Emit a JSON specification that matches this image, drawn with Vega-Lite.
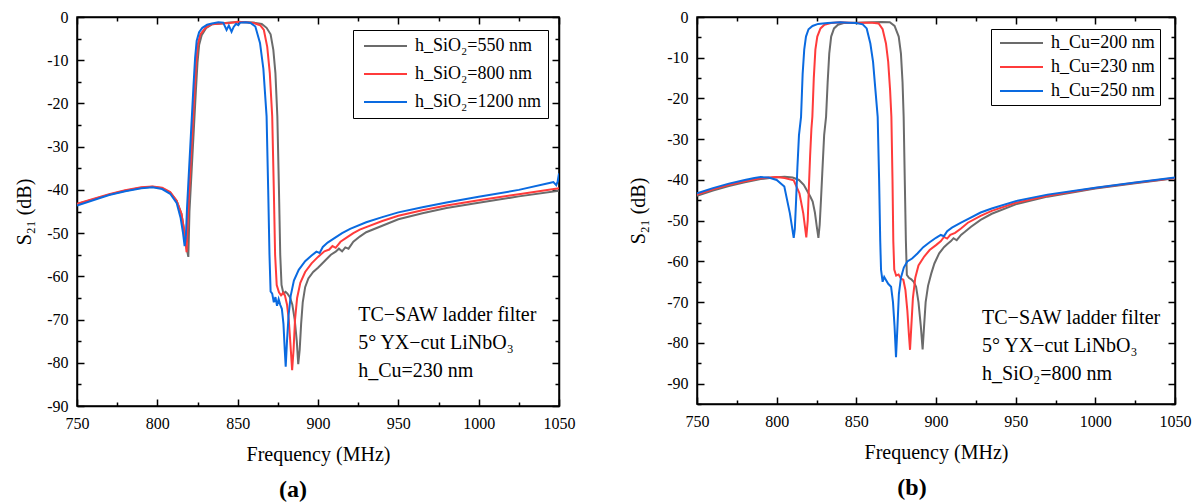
{
  "$schema": "https://vega.github.io/schema/vega-lite/v6.json",
  "background": "white",
  "padding": {"left": 13, "top": 8, "right": 0, "bottom": 0},
  "spacing": 51,
  "config": {
    "font": "Liberation Serif, Times New Roman, Times, DejaVu Serif, serif",
    "view": {"stroke": "black", "strokeWidth": 1.5},
    "axis": {"grid": false, "domainColor": "black", "domainWidth": 1.5, "tickColor": "black", "tickWidth": 1.5, "labelColor": "black", "labelFont": "Liberation Serif, Times New Roman, Times, DejaVu Serif, serif", "labelFontSize": 16, "titleFont": "Liberation Serif, Times New Roman, Times, DejaVu Serif, serif", "titleFontSize": 20, "titleFontWeight": "normal", "titleColor": "black", "labelFlush": false, "labelOverlap": false},
    "legend": {"labelFont": "Liberation Serif, Times New Roman, Times, DejaVu Serif, serif", "labelFontSize": 18, "labelColor": "black", "labelLimit": 400},
    "title": {"font": "Liberation Serif, Times New Roman, Times, DejaVu Serif, serif", "fontSize": 24, "fontWeight": "bold", "color": "black"},
    "text": {"font": "Liberation Serif, Times New Roman, Times, DejaVu Serif, serif"}
  },
  "datasets": {
    "a": [
      {"s":"h_SiO₂=550 nm","f":750,"db":-43.3},{"s":"h_SiO₂=550 nm","f":760,"db":-42.2},{"s":"h_SiO₂=550 nm","f":770,"db":-41.1},{"s":"h_SiO₂=550 nm","f":780,"db":-40.2},{"s":"h_SiO₂=550 nm","f":790,"db":-39.5},{"s":"h_SiO₂=550 nm","f":797,"db":-39.3},{"s":"h_SiO₂=550 nm","f":803,"db":-39.6},{"s":"h_SiO₂=550 nm","f":808,"db":-40.6},{"s":"h_SiO₂=550 nm","f":812,"db":-42.5},{"s":"h_SiO₂=550 nm","f":815,"db":-45.5},{"s":"h_SiO₂=550 nm","f":817,"db":-50},{"s":"h_SiO₂=550 nm","f":818.5,"db":-54},{"s":"h_SiO₂=550 nm","f":819.3,"db":-55.5},{"s":"h_SiO₂=550 nm","f":820,"db":-45},{"s":"h_SiO₂=550 nm","f":821,"db":-38},{"s":"h_SiO₂=550 nm","f":822,"db":-31},{"s":"h_SiO₂=550 nm","f":823,"db":-24},{"s":"h_SiO₂=550 nm","f":824,"db":-17},{"s":"h_SiO₂=550 nm","f":825,"db":-10.5},{"s":"h_SiO₂=550 nm","f":826,"db":-6.5},{"s":"h_SiO₂=550 nm","f":827.6,"db":-4.2},{"s":"h_SiO₂=550 nm","f":830.5,"db":-2.5},{"s":"h_SiO₂=550 nm","f":834,"db":-1.7},{"s":"h_SiO₂=550 nm","f":840,"db":-1.5},{"s":"h_SiO₂=550 nm","f":845,"db":-1.3},{"s":"h_SiO₂=550 nm","f":850,"db":-1.2},{"s":"h_SiO₂=550 nm","f":855,"db":-1.2},{"s":"h_SiO₂=550 nm","f":860,"db":-1.3},{"s":"h_SiO₂=550 nm","f":865,"db":-1.6},{"s":"h_SiO₂=550 nm","f":868,"db":-2.5},{"s":"h_SiO₂=550 nm","f":870.5,"db":-4},{"s":"h_SiO₂=550 nm","f":872.2,"db":-7.6},{"s":"h_SiO₂=550 nm","f":873.5,"db":-13},{"s":"h_SiO₂=550 nm","f":874.7,"db":-23},{"s":"h_SiO₂=550 nm","f":875.7,"db":-40},{"s":"h_SiO₂=550 nm","f":876.5,"db":-55},{"s":"h_SiO₂=550 nm","f":877.3,"db":-62},{"s":"h_SiO₂=550 nm","f":878.5,"db":-64},{"s":"h_SiO₂=550 nm","f":879.8,"db":-63.6},{"s":"h_SiO₂=550 nm","f":881,"db":-64},{"s":"h_SiO₂=550 nm","f":882.5,"db":-64.8},{"s":"h_SiO₂=550 nm","f":884,"db":-66.5},{"s":"h_SiO₂=550 nm","f":885.5,"db":-70},{"s":"h_SiO₂=550 nm","f":886.8,"db":-75},{"s":"h_SiO₂=550 nm","f":887.7,"db":-80.3},{"s":"h_SiO₂=550 nm","f":888.6,"db":-77},{"s":"h_SiO₂=550 nm","f":889.5,"db":-71},{"s":"h_SiO₂=550 nm","f":890.5,"db":-66},{"s":"h_SiO₂=550 nm","f":892,"db":-62.5},{"s":"h_SiO₂=550 nm","f":894,"db":-60.5},{"s":"h_SiO₂=550 nm","f":897,"db":-59},{"s":"h_SiO₂=550 nm","f":900,"db":-58},{"s":"h_SiO₂=550 nm","f":904,"db":-56.5},{"s":"h_SiO₂=550 nm","f":908,"db":-55},{"s":"h_SiO₂=550 nm","f":911,"db":-54.3},{"s":"h_SiO₂=550 nm","f":913,"db":-53.6},{"s":"h_SiO₂=550 nm","f":915,"db":-54.2},{"s":"h_SiO₂=550 nm","f":917,"db":-53.3},{"s":"h_SiO₂=550 nm","f":919,"db":-53.6},{"s":"h_SiO₂=550 nm","f":922,"db":-52},{"s":"h_SiO₂=550 nm","f":926,"db":-50.8},{"s":"h_SiO₂=550 nm","f":930,"db":-49.8},{"s":"h_SiO₂=550 nm","f":940,"db":-48.3},{"s":"h_SiO₂=550 nm","f":950,"db":-46.8},{"s":"h_SiO₂=550 nm","f":965,"db":-45.4},{"s":"h_SiO₂=550 nm","f":980,"db":-44.2},{"s":"h_SiO₂=550 nm","f":1000,"db":-43},{"s":"h_SiO₂=550 nm","f":1025,"db":-41.5},{"s":"h_SiO₂=550 nm","f":1050,"db":-40.2},
      {"s":"h_SiO₂=800 nm","f":750,"db":-43.2},{"s":"h_SiO₂=800 nm","f":760,"db":-42.1},{"s":"h_SiO₂=800 nm","f":770,"db":-41},{"s":"h_SiO₂=800 nm","f":780,"db":-40.1},{"s":"h_SiO₂=800 nm","f":790,"db":-39.4},{"s":"h_SiO₂=800 nm","f":797,"db":-39.2},{"s":"h_SiO₂=800 nm","f":803,"db":-39.5},{"s":"h_SiO₂=800 nm","f":808,"db":-40.5},{"s":"h_SiO₂=800 nm","f":812,"db":-42.5},{"s":"h_SiO₂=800 nm","f":815,"db":-45.5},{"s":"h_SiO₂=800 nm","f":817,"db":-50},{"s":"h_SiO₂=800 nm","f":818.2,"db":-54.4},{"s":"h_SiO₂=800 nm","f":819.2,"db":-45},{"s":"h_SiO₂=800 nm","f":820.2,"db":-38},{"s":"h_SiO₂=800 nm","f":821.2,"db":-31},{"s":"h_SiO₂=800 nm","f":822.2,"db":-24},{"s":"h_SiO₂=800 nm","f":823.2,"db":-17},{"s":"h_SiO₂=800 nm","f":824.2,"db":-10.5},{"s":"h_SiO₂=800 nm","f":825.2,"db":-6.3},{"s":"h_SiO₂=800 nm","f":826.8,"db":-4},{"s":"h_SiO₂=800 nm","f":830,"db":-2.5},{"s":"h_SiO₂=800 nm","f":833.5,"db":-1.7},{"s":"h_SiO₂=800 nm","f":840,"db":-1.5},{"s":"h_SiO₂=800 nm","f":845,"db":-1.4},{"s":"h_SiO₂=800 nm","f":850,"db":-1.1},{"s":"h_SiO₂=800 nm","f":855,"db":-1.2},{"s":"h_SiO₂=800 nm","f":860,"db":-1.4},{"s":"h_SiO₂=800 nm","f":864,"db":-1.9},{"s":"h_SiO₂=800 nm","f":866.3,"db":-3},{"s":"h_SiO₂=800 nm","f":868.4,"db":-6.9},{"s":"h_SiO₂=800 nm","f":870,"db":-13},{"s":"h_SiO₂=800 nm","f":871.5,"db":-23},{"s":"h_SiO₂=800 nm","f":872.5,"db":-40},{"s":"h_SiO₂=800 nm","f":873.3,"db":-55},{"s":"h_SiO₂=800 nm","f":874.3,"db":-62},{"s":"h_SiO₂=800 nm","f":875.7,"db":-63.7},{"s":"h_SiO₂=800 nm","f":877,"db":-64.4},{"s":"h_SiO₂=800 nm","f":878.3,"db":-63.8},{"s":"h_SiO₂=800 nm","f":879.4,"db":-64.4},{"s":"h_SiO₂=800 nm","f":880.7,"db":-66.5},{"s":"h_SiO₂=800 nm","f":881.8,"db":-70},{"s":"h_SiO₂=800 nm","f":882.9,"db":-76},{"s":"h_SiO₂=800 nm","f":883.9,"db":-81.7},{"s":"h_SiO₂=800 nm","f":884.8,"db":-77},{"s":"h_SiO₂=800 nm","f":885.7,"db":-70},{"s":"h_SiO₂=800 nm","f":887,"db":-65},{"s":"h_SiO₂=800 nm","f":889,"db":-61.5},{"s":"h_SiO₂=800 nm","f":892,"db":-59},{"s":"h_SiO₂=800 nm","f":896,"db":-57},{"s":"h_SiO₂=800 nm","f":900,"db":-55.5},{"s":"h_SiO₂=800 nm","f":904,"db":-54.2},{"s":"h_SiO₂=800 nm","f":907,"db":-53.8},{"s":"h_SiO₂=800 nm","f":909,"db":-53},{"s":"h_SiO₂=800 nm","f":911,"db":-53.4},{"s":"h_SiO₂=800 nm","f":914,"db":-52},{"s":"h_SiO₂=800 nm","f":918,"db":-51},{"s":"h_SiO₂=800 nm","f":922,"db":-50},{"s":"h_SiO₂=800 nm","f":926,"db":-49.2},{"s":"h_SiO₂=800 nm","f":930,"db":-48.6},{"s":"h_SiO₂=800 nm","f":940,"db":-47.2},{"s":"h_SiO₂=800 nm","f":950,"db":-46},{"s":"h_SiO₂=800 nm","f":965,"db":-44.7},{"s":"h_SiO₂=800 nm","f":980,"db":-43.6},{"s":"h_SiO₂=800 nm","f":1000,"db":-42.4},{"s":"h_SiO₂=800 nm","f":1025,"db":-41},{"s":"h_SiO₂=800 nm","f":1050,"db":-39.6},
      {"s":"h_SiO₂=1200 nm","f":750,"db":-43.6},{"s":"h_SiO₂=1200 nm","f":760,"db":-42.4},{"s":"h_SiO₂=1200 nm","f":770,"db":-41.2},{"s":"h_SiO₂=1200 nm","f":780,"db":-40.3},{"s":"h_SiO₂=1200 nm","f":790,"db":-39.6},{"s":"h_SiO₂=1200 nm","f":797,"db":-39.4},{"s":"h_SiO₂=1200 nm","f":803,"db":-39.8},{"s":"h_SiO₂=1200 nm","f":808,"db":-40.9},{"s":"h_SiO₂=1200 nm","f":812,"db":-43},{"s":"h_SiO₂=1200 nm","f":814.5,"db":-46.5},{"s":"h_SiO₂=1200 nm","f":816,"db":-50},{"s":"h_SiO₂=1200 nm","f":817,"db":-53},{"s":"h_SiO₂=1200 nm","f":817.8,"db":-50.5},{"s":"h_SiO₂=1200 nm","f":818.5,"db":-44},{"s":"h_SiO₂=1200 nm","f":819.5,"db":-37},{"s":"h_SiO₂=1200 nm","f":820.5,"db":-30},{"s":"h_SiO₂=1200 nm","f":821.5,"db":-23},{"s":"h_SiO₂=1200 nm","f":822.5,"db":-16},{"s":"h_SiO₂=1200 nm","f":823.5,"db":-9.5},{"s":"h_SiO₂=1200 nm","f":824.5,"db":-5.5},{"s":"h_SiO₂=1200 nm","f":826,"db":-3.5},{"s":"h_SiO₂=1200 nm","f":828,"db":-2.5},{"s":"h_SiO₂=1200 nm","f":831,"db":-1.8},{"s":"h_SiO₂=1200 nm","f":834,"db":-1.5},{"s":"h_SiO₂=1200 nm","f":838,"db":-1.2},{"s":"h_SiO₂=1200 nm","f":841,"db":-1.3},{"s":"h_SiO₂=1200 nm","f":843.1,"db":-3},{"s":"h_SiO₂=1200 nm","f":844.5,"db":-2},{"s":"h_SiO₂=1200 nm","f":846.2,"db":-3.4},{"s":"h_SiO₂=1200 nm","f":847.5,"db":-2.3},{"s":"h_SiO₂=1200 nm","f":849,"db":-1.6},{"s":"h_SiO₂=1200 nm","f":850.4,"db":-1.9},{"s":"h_SiO₂=1200 nm","f":851.5,"db":-1.3},{"s":"h_SiO₂=1200 nm","f":855,"db":-1.2},{"s":"h_SiO₂=1200 nm","f":858,"db":-1.4},{"s":"h_SiO₂=1200 nm","f":861,"db":-2.2},{"s":"h_SiO₂=1200 nm","f":863.9,"db":-6},{"s":"h_SiO₂=1200 nm","f":866,"db":-12},{"s":"h_SiO₂=1200 nm","f":868,"db":-23},{"s":"h_SiO₂=1200 nm","f":869,"db":-40},{"s":"h_SiO₂=1200 nm","f":869.8,"db":-55},{"s":"h_SiO₂=1200 nm","f":870.5,"db":-63.5},{"s":"h_SiO₂=1200 nm","f":871.5,"db":-64},{"s":"h_SiO₂=1200 nm","f":872.5,"db":-66},{"s":"h_SiO₂=1200 nm","f":873.5,"db":-64.8},{"s":"h_SiO₂=1200 nm","f":874.5,"db":-66.8},{"s":"h_SiO₂=1200 nm","f":875.5,"db":-65.3},{"s":"h_SiO₂=1200 nm","f":876.5,"db":-66.6},{"s":"h_SiO₂=1200 nm","f":877.5,"db":-67.5},{"s":"h_SiO₂=1200 nm","f":878.5,"db":-71},{"s":"h_SiO₂=1200 nm","f":879.3,"db":-77},{"s":"h_SiO₂=1200 nm","f":879.9,"db":-80.9},{"s":"h_SiO₂=1200 nm","f":880.7,"db":-75},{"s":"h_SiO₂=1200 nm","f":881.7,"db":-69},{"s":"h_SiO₂=1200 nm","f":883,"db":-64.5},{"s":"h_SiO₂=1200 nm","f":885,"db":-61},{"s":"h_SiO₂=1200 nm","f":888,"db":-58.5},{"s":"h_SiO₂=1200 nm","f":892,"db":-56.5},{"s":"h_SiO₂=1200 nm","f":896,"db":-55.2},{"s":"h_SiO₂=1200 nm","f":899,"db":-54.3},{"s":"h_SiO₂=1200 nm","f":901,"db":-54.6},{"s":"h_SiO₂=1200 nm","f":903,"db":-53.2},{"s":"h_SiO₂=1200 nm","f":906,"db":-52.2},{"s":"h_SiO₂=1200 nm","f":910,"db":-51.2},{"s":"h_SiO₂=1200 nm","f":915,"db":-50},{"s":"h_SiO₂=1200 nm","f":920,"db":-49},{"s":"h_SiO₂=1200 nm","f":930,"db":-47.5},{"s":"h_SiO₂=1200 nm","f":940,"db":-46.3},{"s":"h_SiO₂=1200 nm","f":950,"db":-45.2},{"s":"h_SiO₂=1200 nm","f":965,"db":-44},{"s":"h_SiO₂=1200 nm","f":980,"db":-42.9},{"s":"h_SiO₂=1200 nm","f":1000,"db":-41.6},{"s":"h_SiO₂=1200 nm","f":1025,"db":-40},{"s":"h_SiO₂=1200 nm","f":1044,"db":-38.4},{"s":"h_SiO₂=1200 nm","f":1046.5,"db":-38.2},{"s":"h_SiO₂=1200 nm","f":1048.3,"db":-38.9},{"s":"h_SiO₂=1200 nm","f":1049.2,"db":-38},{"s":"h_SiO₂=1200 nm","f":1050,"db":-36.2}
    ],
    "b": [
      {"s":"h_Cu=200 nm","f":750,"db":-43.9},{"s":"h_Cu=200 nm","f":760,"db":-42.6},{"s":"h_Cu=200 nm","f":770,"db":-41.5},{"s":"h_Cu=200 nm","f":780,"db":-40.6},{"s":"h_Cu=200 nm","f":790,"db":-39.8},{"s":"h_Cu=200 nm","f":798,"db":-39.4},{"s":"h_Cu=200 nm","f":805,"db":-39.2},{"s":"h_Cu=200 nm","f":810,"db":-39.4},{"s":"h_Cu=200 nm","f":814,"db":-40},{"s":"h_Cu=200 nm","f":817,"db":-41.2},{"s":"h_Cu=200 nm","f":819,"db":-42.6},{"s":"h_Cu=200 nm","f":821,"db":-44},{"s":"h_Cu=200 nm","f":822.6,"db":-45.3},{"s":"h_Cu=200 nm","f":824,"db":-48},{"s":"h_Cu=200 nm","f":825.2,"db":-51.5},{"s":"h_Cu=200 nm","f":826.2,"db":-54.2},{"s":"h_Cu=200 nm","f":827,"db":-51},{"s":"h_Cu=200 nm","f":827.8,"db":-45},{"s":"h_Cu=200 nm","f":828.6,"db":-38.5},{"s":"h_Cu=200 nm","f":829.8,"db":-29},{"s":"h_Cu=200 nm","f":831,"db":-24.5},{"s":"h_Cu=200 nm","f":832,"db":-16},{"s":"h_Cu=200 nm","f":833,"db":-9},{"s":"h_Cu=200 nm","f":834.2,"db":-4.8},{"s":"h_Cu=200 nm","f":836,"db":-2.8},{"s":"h_Cu=200 nm","f":838.5,"db":-1.9},{"s":"h_Cu=200 nm","f":842,"db":-1.5},{"s":"h_Cu=200 nm","f":850,"db":-1.4},{"s":"h_Cu=200 nm","f":860,"db":-1.3},{"s":"h_Cu=200 nm","f":866,"db":-1.2},{"s":"h_Cu=200 nm","f":871,"db":-1.3},{"s":"h_Cu=200 nm","f":874,"db":-2.2},{"s":"h_Cu=200 nm","f":876.6,"db":-4.8},{"s":"h_Cu=200 nm","f":878,"db":-9},{"s":"h_Cu=200 nm","f":879,"db":-16},{"s":"h_Cu=200 nm","f":879.7,"db":-24.5},{"s":"h_Cu=200 nm","f":880.4,"db":-40},{"s":"h_Cu=200 nm","f":881.1,"db":-55},{"s":"h_Cu=200 nm","f":881.7,"db":-63.3},{"s":"h_Cu=200 nm","f":883,"db":-64},{"s":"h_Cu=200 nm","f":884.5,"db":-64.4},{"s":"h_Cu=200 nm","f":886,"db":-65},{"s":"h_Cu=200 nm","f":887.5,"db":-66.2},{"s":"h_Cu=200 nm","f":889,"db":-70},{"s":"h_Cu=200 nm","f":890.5,"db":-76},{"s":"h_Cu=200 nm","f":891.6,"db":-81.6},{"s":"h_Cu=200 nm","f":892.5,"db":-76},{"s":"h_Cu=200 nm","f":893.5,"db":-70},{"s":"h_Cu=200 nm","f":895,"db":-66},{"s":"h_Cu=200 nm","f":897,"db":-63},{"s":"h_Cu=200 nm","f":899,"db":-60.5},{"s":"h_Cu=200 nm","f":902,"db":-58},{"s":"h_Cu=200 nm","f":905,"db":-56.5},{"s":"h_Cu=200 nm","f":907,"db":-55.8},{"s":"h_Cu=200 nm","f":909.4,"db":-55},{"s":"h_Cu=200 nm","f":911,"db":-54.3},{"s":"h_Cu=200 nm","f":913,"db":-54.8},{"s":"h_Cu=200 nm","f":915.7,"db":-53.5},{"s":"h_Cu=200 nm","f":918,"db":-52.8},{"s":"h_Cu=200 nm","f":922,"db":-51.5},{"s":"h_Cu=200 nm","f":928,"db":-49.8},{"s":"h_Cu=200 nm","f":935,"db":-48.3},{"s":"h_Cu=200 nm","f":950,"db":-46},{"s":"h_Cu=200 nm","f":970,"db":-44.1},{"s":"h_Cu=200 nm","f":1000,"db":-42.1},{"s":"h_Cu=200 nm","f":1025,"db":-40.8},{"s":"h_Cu=200 nm","f":1050,"db":-39.6},
      {"s":"h_Cu=230 nm","f":750,"db":-43.6},{"s":"h_Cu=230 nm","f":760,"db":-42.3},{"s":"h_Cu=230 nm","f":770,"db":-41.2},{"s":"h_Cu=230 nm","f":780,"db":-40.3},{"s":"h_Cu=230 nm","f":790,"db":-39.6},{"s":"h_Cu=230 nm","f":795,"db":-39.4},{"s":"h_Cu=230 nm","f":800,"db":-39.3},{"s":"h_Cu=230 nm","f":805,"db":-39.5},{"s":"h_Cu=230 nm","f":810.7,"db":-40.1},{"s":"h_Cu=230 nm","f":814.3,"db":-43.3},{"s":"h_Cu=230 nm","f":816.7,"db":-48.2},{"s":"h_Cu=230 nm","f":818.6,"db":-54.1},{"s":"h_Cu=230 nm","f":819.5,"db":-50},{"s":"h_Cu=230 nm","f":820.2,"db":-42},{"s":"h_Cu=230 nm","f":821,"db":-34},{"s":"h_Cu=230 nm","f":821.8,"db":-27.5},{"s":"h_Cu=230 nm","f":822.4,"db":-24.5},{"s":"h_Cu=230 nm","f":823.3,"db":-15},{"s":"h_Cu=230 nm","f":824.3,"db":-8},{"s":"h_Cu=230 nm","f":825.5,"db":-4.8},{"s":"h_Cu=230 nm","f":827.5,"db":-2.8},{"s":"h_Cu=230 nm","f":830,"db":-1.9},{"s":"h_Cu=230 nm","f":834,"db":-1.5},{"s":"h_Cu=230 nm","f":840,"db":-1.3},{"s":"h_Cu=230 nm","f":846,"db":-1.4},{"s":"h_Cu=230 nm","f":850,"db":-1.5},{"s":"h_Cu=230 nm","f":855,"db":-1.4},{"s":"h_Cu=230 nm","f":860,"db":-1.4},{"s":"h_Cu=230 nm","f":864,"db":-1.6},{"s":"h_Cu=230 nm","f":866.5,"db":-3},{"s":"h_Cu=230 nm","f":868.6,"db":-6.5},{"s":"h_Cu=230 nm","f":870,"db":-11},{"s":"h_Cu=230 nm","f":871.2,"db":-18},{"s":"h_Cu=230 nm","f":872,"db":-24.5},{"s":"h_Cu=230 nm","f":872.7,"db":-40},{"s":"h_Cu=230 nm","f":873.2,"db":-55},{"s":"h_Cu=230 nm","f":873.8,"db":-62},{"s":"h_Cu=230 nm","f":875,"db":-63.5},{"s":"h_Cu=230 nm","f":876.5,"db":-63.2},{"s":"h_Cu=230 nm","f":878,"db":-64.2},{"s":"h_Cu=230 nm","f":879.5,"db":-64.5},{"s":"h_Cu=230 nm","f":880.8,"db":-67},{"s":"h_Cu=230 nm","f":882,"db":-72},{"s":"h_Cu=230 nm","f":883,"db":-78},{"s":"h_Cu=230 nm","f":883.7,"db":-81.7},{"s":"h_Cu=230 nm","f":884.5,"db":-76},{"s":"h_Cu=230 nm","f":885.5,"db":-69},{"s":"h_Cu=230 nm","f":887,"db":-64},{"s":"h_Cu=230 nm","f":889,"db":-61},{"s":"h_Cu=230 nm","f":892.6,"db":-58.8},{"s":"h_Cu=230 nm","f":896,"db":-57.2},{"s":"h_Cu=230 nm","f":900,"db":-56},{"s":"h_Cu=230 nm","f":903.1,"db":-55},{"s":"h_Cu=230 nm","f":905,"db":-54},{"s":"h_Cu=230 nm","f":907,"db":-54.4},{"s":"h_Cu=230 nm","f":909,"db":-53.5},{"s":"h_Cu=230 nm","f":912,"db":-53},{"s":"h_Cu=230 nm","f":915.7,"db":-51.9},{"s":"h_Cu=230 nm","f":920,"db":-50.5},{"s":"h_Cu=230 nm","f":928,"db":-48.8},{"s":"h_Cu=230 nm","f":935,"db":-47.6},{"s":"h_Cu=230 nm","f":950,"db":-45.6},{"s":"h_Cu=230 nm","f":970,"db":-43.9},{"s":"h_Cu=230 nm","f":1000,"db":-42},{"s":"h_Cu=230 nm","f":1025,"db":-40.7},{"s":"h_Cu=230 nm","f":1050,"db":-39.5},
      {"s":"h_Cu=250 nm","f":750,"db":-43.3},{"s":"h_Cu=250 nm","f":760,"db":-42},{"s":"h_Cu=250 nm","f":770,"db":-40.9},{"s":"h_Cu=250 nm","f":780,"db":-40},{"s":"h_Cu=250 nm","f":786,"db":-39.5},{"s":"h_Cu=250 nm","f":790,"db":-39.3},{"s":"h_Cu=250 nm","f":795,"db":-39.4},{"s":"h_Cu=250 nm","f":800,"db":-40},{"s":"h_Cu=250 nm","f":804.8,"db":-41.6},{"s":"h_Cu=250 nm","f":808.3,"db":-48.2},{"s":"h_Cu=250 nm","f":810.7,"db":-54.2},{"s":"h_Cu=250 nm","f":811.4,"db":-52},{"s":"h_Cu=250 nm","f":812.2,"db":-45},{"s":"h_Cu=250 nm","f":813,"db":-37},{"s":"h_Cu=250 nm","f":814,"db":-29},{"s":"h_Cu=250 nm","f":815.3,"db":-24.5},{"s":"h_Cu=250 nm","f":816.3,"db":-14},{"s":"h_Cu=250 nm","f":817.3,"db":-8},{"s":"h_Cu=250 nm","f":818.4,"db":-4.8},{"s":"h_Cu=250 nm","f":820,"db":-3},{"s":"h_Cu=250 nm","f":822.5,"db":-2.2},{"s":"h_Cu=250 nm","f":826,"db":-1.7},{"s":"h_Cu=250 nm","f":832,"db":-1.5},{"s":"h_Cu=250 nm","f":840,"db":-1.3},{"s":"h_Cu=250 nm","f":845,"db":-1.4},{"s":"h_Cu=250 nm","f":850,"db":-1.5},{"s":"h_Cu=250 nm","f":854,"db":-1.8},{"s":"h_Cu=250 nm","f":856.5,"db":-2.8},{"s":"h_Cu=250 nm","f":858.8,"db":-6.5},{"s":"h_Cu=250 nm","f":860.5,"db":-11},{"s":"h_Cu=250 nm","f":862,"db":-18},{"s":"h_Cu=250 nm","f":863.4,"db":-24.5},{"s":"h_Cu=250 nm","f":864.3,"db":-40},{"s":"h_Cu=250 nm","f":865,"db":-55},{"s":"h_Cu=250 nm","f":865.5,"db":-62},{"s":"h_Cu=250 nm","f":866.5,"db":-65},{"s":"h_Cu=250 nm","f":867.5,"db":-63.8},{"s":"h_Cu=250 nm","f":868.5,"db":-64.5},{"s":"h_Cu=250 nm","f":870,"db":-65.5},{"s":"h_Cu=250 nm","f":871.8,"db":-66.2},{"s":"h_Cu=250 nm","f":873,"db":-70},{"s":"h_Cu=250 nm","f":874,"db":-76},{"s":"h_Cu=250 nm","f":874.9,"db":-83.5},{"s":"h_Cu=250 nm","f":875.8,"db":-76},{"s":"h_Cu=250 nm","f":876.7,"db":-68},{"s":"h_Cu=250 nm","f":878,"db":-64},{"s":"h_Cu=250 nm","f":879.8,"db":-61.5},{"s":"h_Cu=250 nm","f":882,"db":-60},{"s":"h_Cu=250 nm","f":885,"db":-59.3},{"s":"h_Cu=250 nm","f":888.5,"db":-58},{"s":"h_Cu=250 nm","f":892,"db":-56.5},{"s":"h_Cu=250 nm","f":896,"db":-55.3},{"s":"h_Cu=250 nm","f":900,"db":-54.2},{"s":"h_Cu=250 nm","f":903,"db":-53.5},{"s":"h_Cu=250 nm","f":905,"db":-53.8},{"s":"h_Cu=250 nm","f":907,"db":-52.6},{"s":"h_Cu=250 nm","f":910,"db":-51.7},{"s":"h_Cu=250 nm","f":915.7,"db":-50.5},{"s":"h_Cu=250 nm","f":920,"db":-49.6},{"s":"h_Cu=250 nm","f":928,"db":-48},{"s":"h_Cu=250 nm","f":935,"db":-47},{"s":"h_Cu=250 nm","f":950,"db":-45.2},{"s":"h_Cu=250 nm","f":970,"db":-43.6},{"s":"h_Cu=250 nm","f":1000,"db":-41.9},{"s":"h_Cu=250 nm","f":1025,"db":-40.6},{"s":"h_Cu=250 nm","f":1050,"db":-39.4}
    ]
  },
  "resolve": {"scale": {"color": "independent"}},
  "hconcat": [
    {
      "width": 482, "height": 389,
      "data": {"name": "a"},
      "title": {"text": "(a)", "orient": "bottom", "anchor": "middle", "offset": 14, "dx": -25},
      "layer": [
        {
          "mark": {"type": "line", "strokeWidth": 2, "clip": true},
          "encoding": {
            "x": {"field": "f", "type": "quantitative", "scale": {"domain": [750, 1050], "nice": false, "zero": false},
              "axis": {"orient": "bottom", "values": [750,775,800,825,850,875,900,925,950,975,1000,1025,1050], "labelExpr": "datum.value % 50 === 0 ? '' + datum.value : ''", "tickSize": {"condition": {"test": "datum.value % 50 === 0", "value": -7}, "value": -4}, "title": "Frequency (MHz)", "labelPadding": 16, "titlePadding": 10}},
            "y": {"field": "db", "type": "quantitative", "scale": {"domain": [-90, 0], "nice": false, "zero": false},
              "axis": {"orient": "left", "values": [-90,-85,-80,-75,-70,-65,-60,-55,-50,-45,-40,-35,-30,-25,-20,-15,-10,-5,0], "labelExpr": "datum.value % 10 === 0 ? (datum.value < 0 ? '-' + abs(datum.value) : '0') : ''", "tickSize": {"condition": {"test": "datum.value % 10 === 0", "value": -7}, "value": -4}, "title": "S₂₁ (dB)", "labelPadding": 16, "titlePadding": 12}},
            "color": {"field": "s", "type": "nominal",
              "scale": {"domain": ["h_SiO₂=550 nm", "h_SiO₂=800 nm", "h_SiO₂=1200 nm"], "range": ["#6b6b6b", "#ff3b3b", "#0a6ae0"]},
              "legend": {"title": null, "orient": "none", "legendX": 276, "legendY": 13, "strokeColor": "black", "fillColor": "white", "padding": 7, "rowPadding": 10, "symbolType": "M-1,0H7.6", "symbolSize": 100, "symbolStrokeWidth": 2, "labelOffset": 37}}
          }
        },
        {
          "mark": {"type": "line", "strokeOpacity": 0},
          "encoding": {
            "x": {"field": "f", "type": "quantitative", "axis": {"orient": "top", "values": [750,775,800,825,850,875,900,925,950,975,1000,1025,1050], "labels": false, "title": null, "tickSize": {"condition": {"test": "datum.value % 50 === 0", "value": -7}, "value": -4}}},
            "y": {"field": "db", "type": "quantitative", "axis": {"orient": "right", "values": [-90,-85,-80,-75,-70,-65,-60,-55,-50,-45,-40,-35,-30,-25,-20,-15,-10,-5,0], "labels": false, "title": null, "tickSize": {"condition": {"test": "datum.value % 10 === 0", "value": -7}, "value": -4}}}
          }
        },
        {
          "data": {"values": [{}]},
          "mark": {"type": "text", "text": ["TC−SAW ladder filter", "5° YX−cut LiNbO₃", "h_Cu=230 nm"], "align": "left", "baseline": "middle", "fontSize": 20, "lineHeight": 28, "color": "black"},
          "encoding": {"x": {"datum": 925, "axis": null}, "y": {"datum": -69, "axis": null}}
        }
      ],
      "resolve": {"axis": {"x": "independent", "y": "independent"}}
    },
    {
      "width": 478, "height": 387,
      "data": {"name": "b"},
      "title": {"text": "(b)", "orient": "bottom", "anchor": "middle", "offset": 14, "dx": -24},
      "layer": [
        {
          "mark": {"type": "line", "strokeWidth": 2, "clip": true},
          "encoding": {
            "x": {"field": "f", "type": "quantitative", "scale": {"domain": [750, 1050], "nice": false, "zero": false},
              "axis": {"orient": "bottom", "values": [750,775,800,825,850,875,900,925,950,975,1000,1025,1050], "labelExpr": "datum.value % 50 === 0 ? '' + datum.value : ''", "tickSize": {"condition": {"test": "datum.value % 50 === 0", "value": -7}, "value": -4}, "title": "Frequency (MHz)", "labelPadding": 16, "titlePadding": 10}},
            "y": {"field": "db", "type": "quantitative", "scale": {"domain": [-95, 0], "nice": false, "zero": false},
              "axis": {"orient": "left", "values": [-95,-90,-85,-80,-75,-70,-65,-60,-55,-50,-45,-40,-35,-30,-25,-20,-15,-10,-5,0], "labelExpr": "datum.value % 10 === 0 ? (datum.value < 0 ? '-' + abs(datum.value) : '0') : ''", "tickSize": {"condition": {"test": "datum.value % 10 === 0", "value": -7}, "value": -4}, "title": "S₂₁ (dB)", "labelPadding": 16, "titlePadding": 18}},
            "color": {"field": "s", "type": "nominal",
              "scale": {"domain": ["h_Cu=200 nm", "h_Cu=230 nm", "h_Cu=250 nm"], "range": ["#6b6b6b", "#ff3b3b", "#0a6ae0"]},
              "legend": {"title": null, "orient": "none", "legendX": 294, "legendY": 12, "strokeColor": "black", "fillColor": "white", "padding": 5, "rowPadding": 6, "symbolType": "M-1,0H7.6", "symbolSize": 100, "symbolStrokeWidth": 2, "labelOffset": 37}}
          }
        },
        {
          "mark": {"type": "line", "strokeOpacity": 0},
          "encoding": {
            "x": {"field": "f", "type": "quantitative", "axis": {"orient": "top", "values": [750,775,800,825,850,875,900,925,950,975,1000,1025,1050], "labels": false, "title": null, "tickSize": {"condition": {"test": "datum.value % 50 === 0", "value": -7}, "value": -4}}},
            "y": {"field": "db", "type": "quantitative", "axis": {"orient": "right", "values": [-95,-90,-85,-80,-75,-70,-65,-60,-55,-50,-45,-40,-35,-30,-25,-20,-15,-10,-5,0], "labels": false, "title": null, "tickSize": {"condition": {"test": "datum.value % 10 === 0", "value": -7}, "value": -4}}}
          }
        },
        {
          "data": {"values": [{}]},
          "mark": {"type": "text", "text": ["TC−SAW ladder filter", "5° YX−cut LiNbO₃", "h_SiO₂=800 nm"], "align": "left", "baseline": "middle", "fontSize": 20, "lineHeight": 28, "color": "black"},
          "encoding": {"x": {"datum": 928.9, "axis": null}, "y": {"datum": -73.9, "axis": null}}
        }
      ],
      "resolve": {"axis": {"x": "independent", "y": "independent"}}
    }
  ]
}
